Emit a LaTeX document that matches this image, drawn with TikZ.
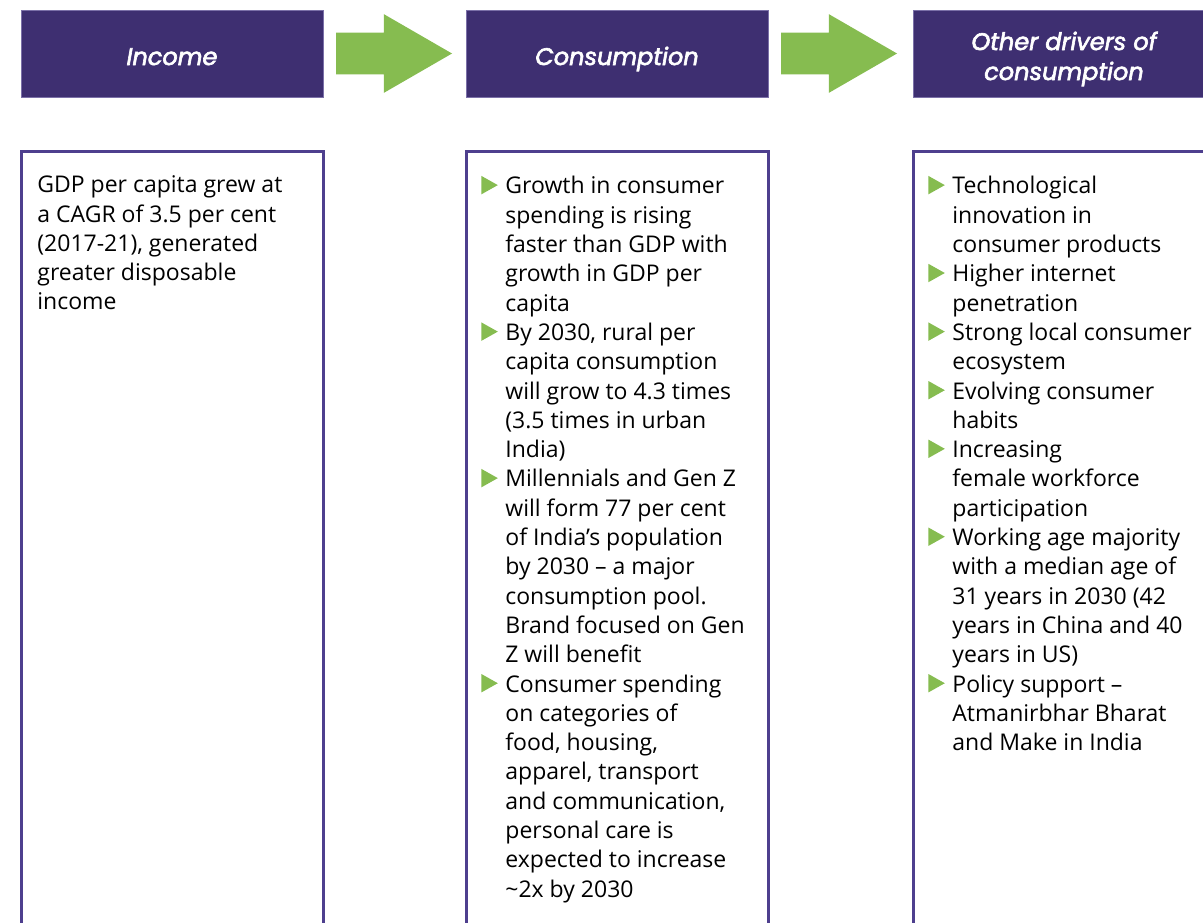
\documentclass[tikz,border=0pt]{standalone}
\usepackage{fontspec}
\setmainfont{Open Sans}
\newfontfamily\headfont[UprightFeatures={FakeBold=2.6}, ItalicFeatures={FakeBold=2.6}]{Poppins}
\usetikzlibrary{shapes,arrows,positioning}
\usepackage{xcolor}

\definecolor{hdrpurple}{HTML}{3E2F71}
\definecolor{hdrline}{HTML}{7B70A8}
\definecolor{boxpurple}{HTML}{4E3F8E}
\definecolor{arrgreen}{HTML}{86BC50}

% green triangle bullet and the matching indent for wrapped lines
\newcommand{\bul}{\makebox[12pt][l]{\tikz[baseline=0pt]\fill[arrgreen] (0pt,-0.2pt) -- (8.2pt,4.4pt) -- (0pt,9pt) -- cycle;}}
\newcommand{\nob}{\hspace*{12pt}}

\begin{document}
\begin{tikzpicture}[x=0.5pt,y=-0.5pt,
    header/.style={fill=hdrpurple, draw=hdrline, line width=0.5pt, text=white,
      font=\headfont\itshape\fontsize{12}{15}\selectfont,
      minimum width=151pt, minimum height=43.5pt, inner sep=0pt, outer sep=0pt,
      text height=14pt, text depth=2.5pt},
    flowarrow/.style={single arrow, fill=arrgreen, inner xsep=0pt, inner ysep=10.25pt, outer sep=0pt,
      minimum height=58pt, minimum width=39pt,
      single arrow head extend=9.25pt, single arrow tip angle=60},
    bodybox/.style={draw=boxpurple, line width=1.5pt, outer sep=0pt,
      minimum width=151pt, minimum height=420pt},
    bodytext/.style={anchor=north west, align=left, inner sep=0pt,
      font=\fontsize{11.5}{14.65}\selectfont, execute at begin node=\strut}]
					% page size
					\useasboundingbox (0,0) rectangle (1203,922);

					% Draw the three headers with the arrows between them
					\node[header, anchor=north west] (income) at (21,10) {Income};
					\node[header, right=71.5pt of income] (consumption) {Consumption};
					\node[header, right=72.5pt of consumption] (drivers) {\begin{tabular}{@{}c@{}}Other drivers of\\consumption\end{tabular}};
					\node[flowarrow, right=6.5pt of income] (arrow1) {};
					\node[flowarrow, right=6.5pt of consumption] (arrow2) {};

					% Draw the open boxes below each header
					\node[bodybox, below=27pt of income] (incomebox) {};
					\node[bodybox, below=27pt of consumption] (consumptionbox) {};
					\node[bodybox, below=27pt of drivers] (driversbox) {};

					% Label the boxes
					\node[bodytext] (incometext) at ([xshift=8pt,yshift=-12.25pt]incomebox.north west)
						{GDP per capita grew at\\a CAGR of 3.5 per cent\\(2017-21), generated\\greater disposable\\income};
					\node[bodytext] (consumptiontext) at ([xshift=7.5pt,yshift=-12.25pt]consumptionbox.north west)
						{\bul Growth in consumer\\\nob spending is rising\\\nob faster than GDP with\\\nob growth in GDP per\\\nob capita\\
						 \bul By 2030, rural per\\\nob capita consumption\\\nob will grow to 4.3 times\\\nob (3.5 times in urban\\\nob India)\\
						 \bul Millennials and Gen Z\\\nob will form 77 per cent\\\nob of India’s population\\\nob by 2030 – a major\\\nob consumption pool.\\\nob Brand focused on Gen\\\nob Z will benefit\\
						 \bul Consumer spending\\\nob on categories of\\\nob food, housing,\\\nob apparel, transport\\\nob and communication,\\\nob personal care is\\\nob expected to increase\\\nob \textasciitilde2x by 2030};
					\node[bodytext] (driverstext) at ([xshift=7.5pt,yshift=-12.25pt]driversbox.north west)
						{\bul Technological\\\nob innovation in\\\nob consumer products\\
						 \bul Higher internet\\\nob penetration\\
						 \bul Strong local consumer\\\nob ecosystem\\
						 \bul Evolving consumer\\\nob habits\\
						 \bul Increasing\\\nob female workforce\\\nob participation\\
						 \bul Working age majority\\\nob with a median age of\\\nob 31 years in 2030 (42\\\nob years in China and 40\\\nob years in US)\\
						 \bul Policy support –\\\nob Atmanirbhar Bharat\\\nob and Make in India};
				\end{tikzpicture}
\end{document}
